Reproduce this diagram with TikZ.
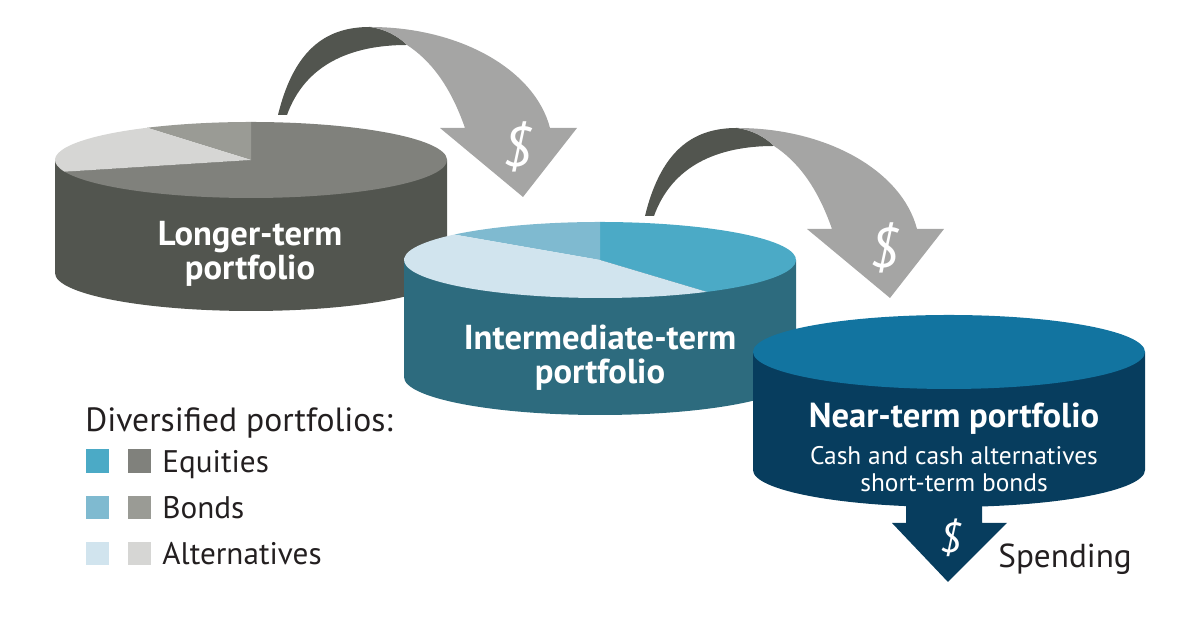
\documentclass[tikz,border=0pt]{standalone}
\usepackage{fontspec}
\setmainfont{PT Sans}
\definecolor{grayside}{HTML}{52554F}
\definecolor{grayeq}{HTML}{80817C}
\definecolor{graybd}{HTML}{9A9B95}
\definecolor{grayalt}{HTML}{D6D6D4}
\definecolor{blueside}{HTML}{2D6B7E}
\definecolor{blueeq}{HTML}{4BAAC6}
\definecolor{bluebd}{HTML}{7FBAD0}
\definecolor{bluealt}{HTML}{D1E4EE}
\definecolor{navytop}{HTML}{1274A0}
\definecolor{navyside}{HTML}{073D5E}
\definecolor{arrowlight}{HTML}{A5A5A4}
\definecolor{textdark}{HTML}{231F20}
\begin{document}
\begin{tikzpicture}[x=0.5pt,y=0.5pt,
  pielabel/.style={text=white,font=\bfseries\fontsize{17.3}{18}\selectfont,anchor=base,inner sep=0pt},
  subl/.style={text=white,font=\fontsize{12.7}{14}\selectfont,anchor=base,inner sep=0pt},
  legtext/.style={text=textdark,font=\fontsize{15.6}{17}\selectfont,anchor=base west,inner sep=0pt},
  dollar/.style={text=white,font=\itshape\fontsize{28}{30}\selectfont,inner sep=0pt},
  curvedarrow/.pic={
    \fill[grayside] (278,509) .. controls (295,579) and (330,597) .. (370,597)
      .. controls (385,595) and (398,588) .. (407,579)
      .. controls (350,579) and (305,559) .. (287,509) -- cycle;
    \fill[arrowlight] (370,597) .. controls (460,597) and (535,554) .. (550,496)
      -- (577,496) -- (523,427) -- (440,496) -- (465,496)
      .. controls (450,539) and (430,564) .. (407,579)
      .. controls (398,588) and (385,595) .. (370,597) -- cycle;
    \node[dollar] (-d) at (517,477) {\$};
  }]
\useasboundingbox (0,0) rectangle (1200,624);

% ---- Longer-term portfolio
\fill[grayside] (55,464) -- (55,351) arc[start angle=180,end angle=360,x radius=196,y radius=38] -- (447,464) -- cycle;
\fill[grayeq] (251,464) -- ++(-162:196 and 38) arc[start angle=-162,end angle=90,x radius=196,y radius=38] -- cycle;
\fill[graybd] (251,464) -- ++(90:196 and 38) arc[start angle=90,end angle=122,x radius=196,y radius=38] -- cycle;
\fill[grayalt] (251,464) -- ++(122:196 and 38) arc[start angle=122,end angle=198,x radius=196,y radius=38] -- cycle;
\node[pielabel] (lt1) at (250,378) {Longer-term};
\node[pielabel] (lt2) at (250,344) {portfolio};

\pic (arrA) at (0,0) {curvedarrow};

% ---- Intermediate-term portfolio
\fill[blueside] (404,364) -- (404,247) arc[start angle=180,end angle=360,x radius=196,y radius=38] -- (796,364) -- cycle;
\fill[blueeq] (600,364) -- ++(-57:196 and 38) arc[start angle=-57,end angle=90,x radius=196,y radius=38] -- cycle;
\fill[bluebd] (600,364) -- ++(90:196 and 38) arc[start angle=90,end angle=138,x radius=196,y radius=38] -- cycle;
\fill[bluealt] (600,364) -- ++(138:196 and 38) arc[start angle=138,end angle=303,x radius=196,y radius=38] -- cycle;
\node[pielabel] (it1) at (600,274) {Intermediate-term};
\node[pielabel] (it2) at (600,240) {portfolio};

\pic (arrB) at (367,-101) {curvedarrow};

% ---- Near-term portfolio
\fill[navyside] (906,140) -- (906,101) -- (892,101) -- (948,42) -- (1007,101) -- (982,101) -- (982,140) -- cycle;
\fill[navyside] (753,272) -- (753,154) arc[start angle=180,end angle=360,x radius=196,y radius=37] -- (1145,272) -- cycle;
\fill[navytop] (949,272) ellipse[x radius=196,y radius=37];
\node[pielabel] (nt1) at (954,196) {Near-term portfolio};
\node[subl] (nt2) at (954,159) {Cash and cash alternatives};
\node[subl] (nt3) at (954,132) {short-term bonds};
\node[dollar,font=\itshape\fontsize{21}{23}\selectfont] (sd) at (950,86) {\$};
\node[legtext,font=\fontsize{16.6}{18}\selectfont] (sp) at (998,56) {Spending};

% ---- Legend
\node[legtext,font=\fontsize{16.8}{18}\selectfont] (lh) at (85,192) {Diversified portfolios:};
\fill[blueeq] (86,151) rectangle (109,175);
\fill[grayeq] (128,151) rectangle (151,175);
\fill[bluebd] (86,105) rectangle (109,128);
\fill[graybd] (128,105) rectangle (151,128);
\fill[bluealt] (86,59) rectangle (109,82);
\fill[grayalt] (128,59) rectangle (151,82);
\node[legtext] (le) at (162,151) {Equities};
\node[legtext] (lb) at (162,105) {Bonds};
\node[legtext] (la) at (162,59) {Alternatives};
\end{tikzpicture}
\end{document}
